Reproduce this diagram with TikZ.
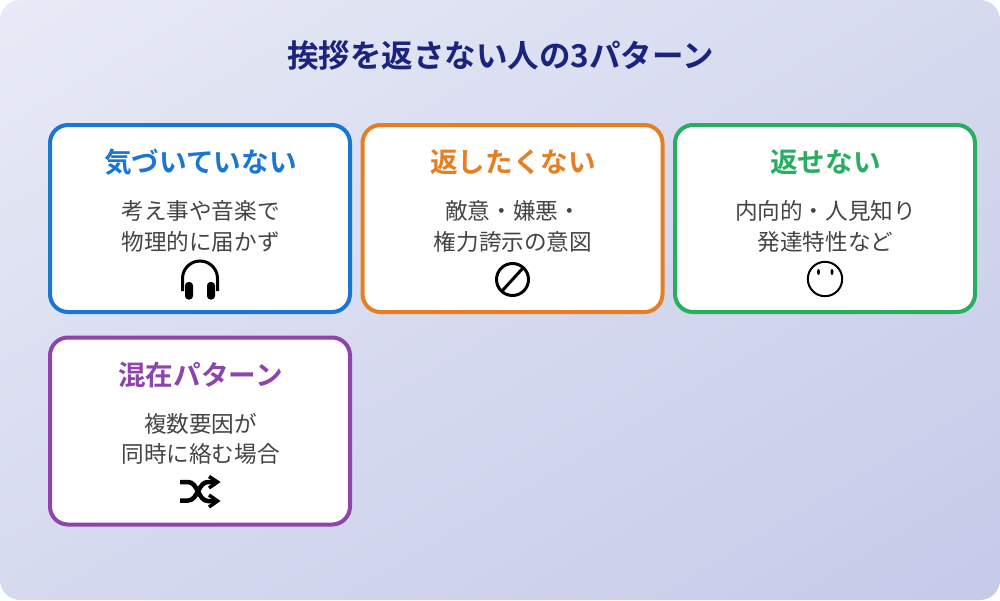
\documentclass[tikz,border=0pt]{standalone}
\usepackage{fontspec}
\setmainfont{Noto Sans CJK JP}[BoldFont={Noto Sans CJK JP Bold}]
\usepackage{xcolor}
\usetikzlibrary{shadings}
\definecolor{bgA}{HTML}{E8EAF6}
\definecolor{bgM}{HTML}{D6DAEF}
\definecolor{bgB}{HTML}{C5CAE9}
\definecolor{ttl}{HTML}{1A237E}
\definecolor{cblue}{HTML}{1976D2}
\definecolor{corange}{HTML}{E67E22}
\definecolor{cgreen}{HTML}{27AE60}
\definecolor{cpurple}{HTML}{8E44AD}
\definecolor{btxt}{HTML}{444444}
\tikzset{
    card/.style={draw=#1, line width=4pt, fill=white, rounded corners=18pt, minimum width=300pt, minimum height=187pt, inner sep=0pt},
    head/.style={font=\fontsize{27.6}{30}\selectfont\bfseries, text=#1},
    body/.style={font=\fontsize{22.6}{26}\selectfont, text=btxt}}
\begin{document}
\begin{tikzpicture}[x=1pt,y=-1pt]
\useasboundingbox (0,0) rectangle (1000,600);
\shade[upper left=bgA, upper right=bgM, lower left=bgM, lower right=bgB, rounded corners=20pt] (0,0) rectangle (1000,600);
\node[font=\fontsize{31.5}{36}\selectfont\bfseries, text=ttl] (title) at (500.5,56) {挨拶を返さない人の3パターン};

\node[card=cblue] (c1) at (200,218.5) {};
\node[card=corange] (c2) at (512.5,218.5) {};
\node[card=cgreen] (c3) at (825,218.5) {};
\node[card=cpurple] (c4) at (200,431) {};

\node[head=cblue] (h1) at (200.5,162) {気づいていない};
\node[body] (b1a) at (200.5,211) {考え事や音楽で};
\node[body] (b1b) at (200.5,242) {物理的に届かず};
\node[head=corange] (h2) at (513,162) {返したくない};
\node[body] (b2a) at (513,211) {敵意・嫌悪・};
\node[body] (b2b) at (513,242) {権力誇示の意図};
\node[head=cgreen] (h3) at (825.5,162) {返せない};
\node[body] (b3a) at (825.5,211) {内向的・人見知り};
\node[body] (b3b) at (825.5,242) {発達特性など};
\node[head=cpurple] (h4) at (200.5,375) {混在パターン};
\node[body] (b4a) at (200.5,424) {複数要因が};
\node[body] (b4b) at (200.5,454) {同時に絡む場合};

% headphones
\draw[line width=3pt] (182.5,291) -- (182.5,278.5) arc[start angle=180, end angle=360, radius=17.5] -- (217.5,291);
\fill[rounded corners=3.5pt] (185,282) rectangle (193,299.5);
\fill[rounded corners=3.5pt] (207,282) rectangle (215,299.5);

% prohibited
\draw[line width=3pt] (512.5,279.5) circle(16);
\draw[line width=3pt] (502,291) -- (523,268);

% face
\draw[line width=2pt] (825,279) circle(17.2);
\fill (818.5,272) ellipse(1.5 and 3);
\fill (832,272) ellipse(1.5 and 3);

% shuffle
\draw[line width=4.5pt] (180,482) -- (188,482) .. controls (198,482) and (198,501) .. (208,501) -- (216,501);
\draw[line width=4.5pt] (180,500.5) -- (188,500.5) .. controls (198,500.5) and (198,482) .. (208,482) -- (216,482);
\draw[line width=3.5pt] (209,476.5) -- (217.5,482) -- (209,488);
\draw[line width=3.5pt] (209,495) -- (217.5,501) -- (209,507);
\end{tikzpicture}
\end{document}
